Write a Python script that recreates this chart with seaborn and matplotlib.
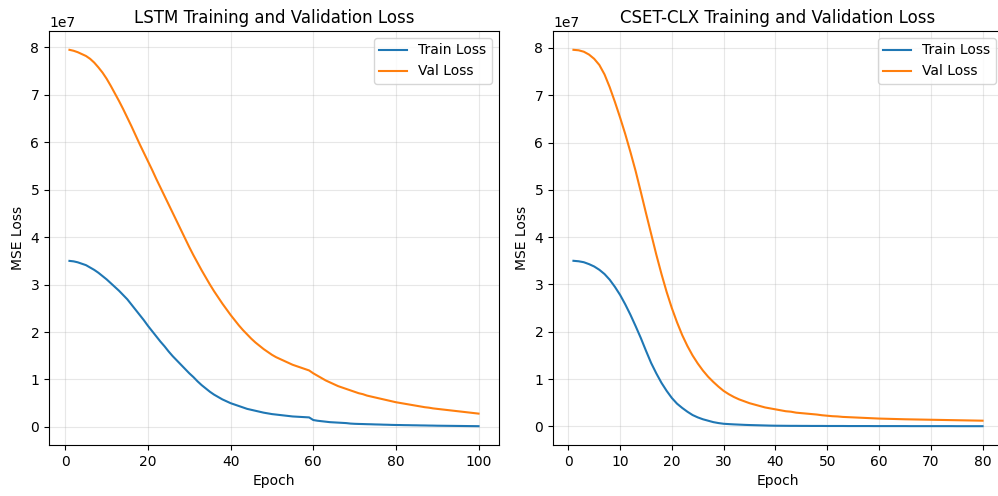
import matplotlib
matplotlib.use("Agg")
import matplotlib.pyplot as plt
import seaborn as sns
import numpy as np
import pandas as pd

SCALE = 1e7

lstm_train = [3.50, 3.49, 3.47, 3.44, 3.41, 3.36, 3.31, 3.25, 3.18, 3.11,
              3.03, 2.95, 2.87, 2.78, 2.69, 2.58, 2.47, 2.36, 2.25, 2.13,
              2.02, 1.91, 1.80, 1.70, 1.59, 1.49, 1.40, 1.31, 1.22, 1.13,
              1.05, 0.96, 0.88, 0.81, 0.74, 0.68, 0.63, 0.58, 0.54, 0.50,
              0.47, 0.44, 0.41, 0.38, 0.36, 0.34, 0.32, 0.30, 0.285, 0.27,
              0.26, 0.25, 0.24, 0.23, 0.22, 0.215, 0.21, 0.205, 0.20, 0.145,
              0.13, 0.12, 0.11, 0.10, 0.095, 0.09, 0.085, 0.08, 0.07, 0.065,
              0.062, 0.06, 0.057, 0.055, 0.052, 0.05, 0.047, 0.045, 0.042, 0.04,
              0.039, 0.037, 0.036, 0.034, 0.033, 0.031, 0.03, 0.028, 0.027, 0.025,
              0.024, 0.023, 0.022, 0.021, 0.02, 0.019, 0.018, 0.017, 0.016, 0.015]

lstm_val = [7.95, 7.93, 7.90, 7.86, 7.82, 7.76, 7.68, 7.58, 7.47, 7.34,
            7.19, 7.03, 6.87, 6.70, 6.52, 6.34, 6.15, 5.96, 5.78, 5.60,
            5.42, 5.23, 5.05, 4.87, 4.69, 4.51, 4.33, 4.15, 3.97, 3.79,
            3.62, 3.46, 3.30, 3.15, 3.00, 2.86, 2.73, 2.60, 2.48, 2.36,
            2.25, 2.14, 2.04, 1.95, 1.86, 1.78, 1.71, 1.64, 1.58, 1.52,
            1.47, 1.43, 1.39, 1.35, 1.31, 1.28, 1.25, 1.22, 1.19, 1.13,
            1.08, 1.03, 0.98, 0.94, 0.90, 0.86, 0.83, 0.80, 0.77, 0.74,
            0.71, 0.69, 0.66, 0.64, 0.62, 0.60, 0.58, 0.56, 0.54, 0.52,
            0.505, 0.49, 0.475, 0.46, 0.445, 0.43, 0.415, 0.405, 0.39, 0.38,
            0.37, 0.36, 0.35, 0.34, 0.33, 0.32, 0.31, 0.30, 0.29, 0.28]

cset_train = [3.50, 3.49, 3.47, 3.43, 3.38, 3.31, 3.22, 3.10, 2.95, 2.78,
              2.58, 2.36, 2.12, 1.87, 1.60, 1.34, 1.12, 0.92, 0.75, 0.60,
              0.48, 0.39, 0.31, 0.24, 0.19, 0.15, 0.12, 0.09, 0.07, 0.055,
              0.048, 0.042, 0.037, 0.032, 0.028, 0.025, 0.022, 0.019, 0.016, 0.014,
              0.013, 0.012, 0.011, 0.011, 0.010, 0.010, 0.009, 0.009, 0.009, 0.008,
              0.008, 0.008, 0.008, 0.007, 0.007, 0.007, 0.007, 0.007, 0.006, 0.006,
              0.006, 0.006, 0.006, 0.006, 0.006, 0.005, 0.005, 0.005, 0.005, 0.005,
              0.005, 0.005, 0.005, 0.005, 0.004, 0.004, 0.004, 0.004, 0.004, 0.004]

cset_val = [7.96, 7.95, 7.92, 7.86, 7.77, 7.64, 7.44, 7.17, 6.86, 6.53,
            6.18, 5.80, 5.40, 4.96, 4.51, 4.07, 3.63, 3.22, 2.84, 2.50,
            2.20, 1.93, 1.70, 1.50, 1.33, 1.18, 1.05, 0.94, 0.84, 0.75,
            0.68, 0.62, 0.57, 0.53, 0.49, 0.46, 0.43, 0.40, 0.38, 0.36,
            0.34, 0.32, 0.31, 0.29, 0.28, 0.27, 0.26, 0.25, 0.235, 0.225,
            0.215, 0.21, 0.20, 0.195, 0.19, 0.185, 0.18, 0.175, 0.17, 0.165,
            0.162, 0.159, 0.156, 0.153, 0.15, 0.148, 0.146, 0.144, 0.142, 0.14,
            0.138, 0.136, 0.134, 0.132, 0.13, 0.128, 0.126, 0.124, 0.122, 0.12]

titles = ["LSTM Training and Validation Loss", "CSET-CLX Training and Validation Loss"]
labels = ["Train Loss", "Val Loss"]

DPI = 100
W, H = 998, 496
fig = plt.figure(figsize=(W / DPI, H / DPI), dpi=DPI)

def px_axes(left, top, right, bottom):
    return fig.add_axes([left / W, 1 - bottom / H, (right - left) / W, (bottom - top) / H])

ax1 = px_axes(49, 31, 499, 445)
ax2 = px_axes(553, 31, 1003, 445)

for ax, tr, va, title in [(ax1, lstm_train, lstm_val, titles[0]),
                          (ax2, cset_train, cset_val, titles[1])]:
    epochs = np.arange(1, len(tr) + 1)
    df = pd.DataFrame({"Epoch": epochs,
                       "train": np.array(tr) * SCALE,
                       "val": np.array(va) * SCALE})
    sns.lineplot(data=df, x="Epoch", y="train", ax=ax, color="C0", label=labels[0], linewidth=1.5)
    sns.lineplot(data=df, x="Epoch", y="val", ax=ax, color="C1", label=labels[1], linewidth=1.5)
    ax.set_title(title)
    ax.set_xlabel("Epoch")
    ax.set_ylabel("MSE Loss")
    ax.grid(True, alpha=0.3)
    ax.legend(loc="upper right")

ax2.set_xticks(np.arange(0, 81, 10))

fig.savefig("out.png", dpi=DPI)
